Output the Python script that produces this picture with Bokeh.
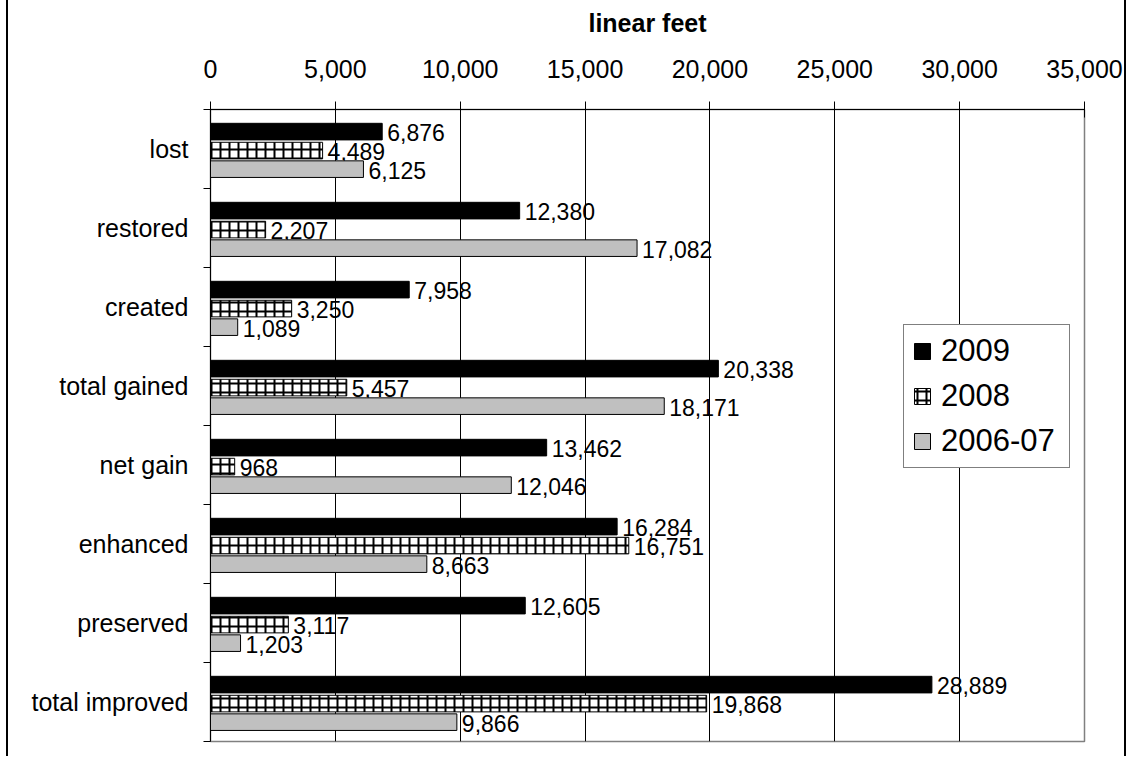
from bokeh.plotting import figure
from bokeh.models import ColumnDataSource, Range1d, FixedTicker, NumeralTickFormatter
from bokeh.core.properties import value
from bokeh.embed import file_html
from bokeh.resources import INLINE

categories = ["lost", "restored", "created", "total gained", "net gain",
              "enhanced", "preserved", "total improved"]
v2009 = [6876, 12380, 7958, 20338, 13462, 16284, 12605, 28889]
v2008 = [4489, 2207, 3250, 5457, 968, 16751, 3117, 19868]
v2006_07 = [6125, 17082, 1089, 18171, 12046, 8663, 1203, 9866]
series_names = ["2009", "2008", "2006-07"]
x_ticks = [0, 5000, 10000, 15000, 20000, 25000, 30000, 35000]
axis_title = "linear feet"

FONT = "Liberation Sans"
n = len(categories)
centers = [n - i - 0.5 for i in range(n)]
boundaries = [float(i) for i in range(n + 1)]

p = figure(width=1116, height=756,
           x_range=Range1d(0, 35000), y_range=Range1d(0, n),
           x_axis_location="above",
           output_backend="svg", toolbar_location=None,
           min_border_left=202, min_border_right=40,
           min_border_top=109, min_border_bottom=15)
p.styles = {"margin-left": "8px",
            "box-shadow": "-2px 0 0 0 black, 2px 0 0 0 black"}
p.background_fill_color = "white"
p.border_fill_color = "white"
p.outline_line_color = "#808080"
p.outline_line_width = 1.5

offsets = [0.22, -0.02, -0.255]
bar_h = 0.21
styles = [
    dict(fill_color="black"),
    dict(fill_color="white", hatch_pattern="+", hatch_color="black",
         hatch_scale=9, hatch_weight=2),
    dict(fill_color="#c0c0c0"),
]
for vals, name, off, st in zip([v2009, v2008, v2006_07], series_names, offsets, styles):
    src = ColumnDataSource(dict(
        y=[c + off for c in centers],
        v=vals,
        lab=[f"{v:,}" for v in vals],
    ))
    p.hbar(y="y", left=0, right="v", height=bar_h, source=src,
           line_color="black", line_width=1, legend_label=name, **st)
    p.text(x="v", y="y", text="lab", source=src, x_offset=5, y_offset=1,
           text_baseline="middle", text_align="left",
           text_font=value(FONT), text_font_size="23px", text_color="black")

# x axis (top)
xa = p.xaxis[0]
xa.ticker = FixedTicker(ticks=x_ticks)
xa.formatter = NumeralTickFormatter(format="0,0")
xa.major_tick_in = 8
xa.major_tick_out = 8
xa.minor_tick_in = 0
xa.minor_tick_out = 0
xa.axis_line_color = "black"
xa.major_tick_line_color = "black"
xa.major_label_text_font = FONT
xa.major_label_text_font_size = "25px"
xa.major_label_text_color = "black"
xa.major_label_standoff = 24
xa.axis_label = axis_title
xa.axis_label_text_font = FONT
xa.axis_label_text_font_size = "25px"
xa.axis_label_text_font_style = "bold"
xa.axis_label_text_color = "black"
xa.axis_label_standoff = 20

# y axis (categories)
ya = p.yaxis[0]
ya.ticker = FixedTicker(ticks=centers, minor_ticks=boundaries)
ya.major_label_overrides = {c: name for c, name in zip(centers, categories)}
ya.major_tick_in = 0
ya.major_tick_out = 0
ya.minor_tick_in = 0
ya.minor_tick_out = 7
ya.minor_tick_line_color = "black"
ya.axis_line_color = "black"
ya.major_label_text_font = FONT
ya.major_label_text_font_size = "25px"
ya.major_label_text_color = "black"
ya.major_label_standoff = 15

p.xgrid.ticker = FixedTicker(ticks=x_ticks[1:-1])
p.xgrid.grid_line_color = "black"
p.xgrid.grid_line_width = 1
p.ygrid.visible = False

lg = p.legend[0]
lg.location = (693, 273)
lg.margin = 0
lg.padding = 8
lg.spacing = 9
lg.glyph_width = 20
lg.glyph_height = 20
lg.label_standoff = 9
lg.label_width = 120
lg.label_text_font = FONT
lg.label_text_font_size = "31px"
lg.label_text_color = "black"
lg.border_line_color = "black"
lg.border_line_width = 1.5
lg.background_fill_color = "white"
lg.background_fill_alpha = 1.0

open("out.html", "w").write(file_html(p, INLINE))
